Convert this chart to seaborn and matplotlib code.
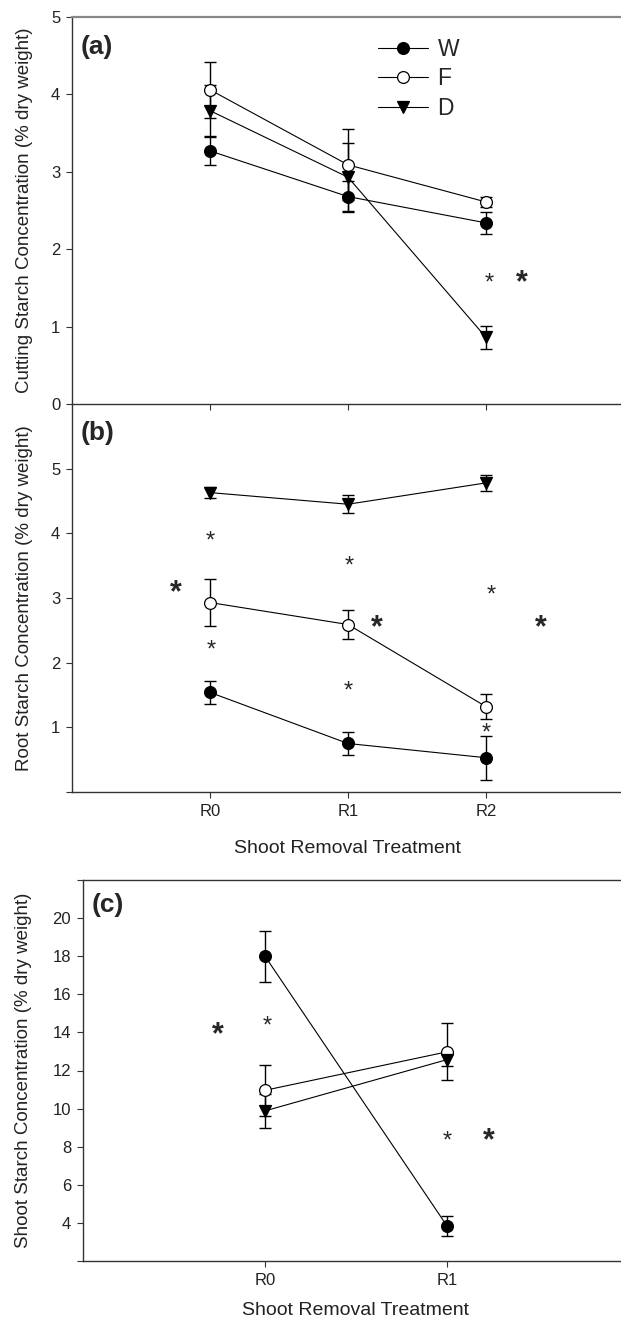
import matplotlib
matplotlib.use("Agg")
import matplotlib.pyplot as plt
import matplotlib.transforms as mtransforms
import seaborn as sns
import pandas as pd

sns.set_style("ticks")
plt.rcParams['font.family'] = ['Liberation Sans', 'DejaVu Sans']

# treatments on x
treat3 = ['R0', 'R1', 'R2']
treat2 = ['R0', 'R1']

# (a) cutting starch
cut_W = [3.27, 2.68, 2.34]
cut_W_err = [0.18, 0.20, 0.14]
cut_F = [4.06, 3.09, 2.61]
cut_F_err = [0.36, 0.46, 0.07]
cut_D = [3.79, 2.93, 0.86]
cut_D_err = [0.33, 0.44, 0.15]

# (b) root starch
root_W = [1.54, 0.75, 0.53]
root_W_err = [0.18, 0.18, 0.34]
root_F = [2.93, 2.59, 1.32]
root_F_err = [0.36, 0.23, 0.19]
root_D = [4.63, 4.45, 4.78]
root_D_err = [0.08, 0.14, 0.12]

# (c) shoot starch
shoot_W = [18.0, 3.84]
shoot_W_err = [1.33, 0.53]
shoot_F = [10.96, 12.98]
shoot_F_err = [1.34, 1.50]
shoot_D = [9.88, 12.57]
shoot_D_err = [0.91, 0.33]

# significance stars: (x, y)
stars_a_small = [(2.02, 1.61)]
stars_a_big = [(2.26, 1.65)]
stars_b_small = [(0.0, 3.93), (0.01, 2.25), (1.01, 3.55), (1.0, 1.62), (2.04, 3.10), (2.0, 0.96)]
stars_b_big = [(-0.25, 3.18), (1.21, 2.64), (2.40, 2.64)]
stars_c_small = [(0.01, 14.52), (1.0, 8.48)]
stars_c_big = [(-0.26, 14.2), (1.23, 8.65)]

styles = {
    'W': dict(marker='o', markerfacecolor='black'),
    'F': dict(marker='o', markerfacecolor='white'),
    'D': dict(marker='v', markerfacecolor='black'),
}


def draw_panel(ax, cats, series, stars_small, stars_big, legend=False):
    ax.set_facecolor('none')
    for name, vals, errs in series:
        df = pd.DataFrame({'x': list(range(len(cats))), 'y': vals})
        ax.errorbar(df['x'], df['y'], yerr=errs, fmt='none', ecolor='black',
                    elinewidth=1.0, capsize=4.5, capthick=1.0, zorder=2)
        sns.lineplot(data=df, x='x', y='y', ax=ax, color='black', linewidth=0.8,
                     markersize=8.5, markeredgecolor='black', markeredgewidth=0.9,
                     label=name if legend else None, legend=False, zorder=3,
                     **styles[name])
    # asterisk glyph sits high in its box, nudge it down
    small_tr = mtransforms.offset_copy(ax.transData, fig=ax.figure, y=-4, units='dots')
    big_tr = mtransforms.offset_copy(ax.transData, fig=ax.figure, y=-7, units='dots')
    for x, y in stars_small:
        ax.text(x, y, '*', fontsize=17, ha='center', va='center', transform=small_tr)
    for x, y in stars_big:
        ax.text(x, y, '*', fontsize=22, fontweight='bold', ha='center', va='center',
                transform=big_tr)
    ax.set_xlim(-1, len(cats))
    ax.set_xticks(range(len(cats)))
    ax.spines['right'].set_visible(False)
    for side in ['left', 'bottom', 'top']:
        ax.spines[side].set_color('#333333')
        ax.spines[side].set_linewidth(1.0)
    ax.tick_params(axis='both', direction='out', length=4.5, width=0.8, pad=4,
                   colors='#333333', labelcolor='#222222', labelsize=12)


fig = plt.figure(figsize=(6.21, 13.17), dpi=100)
ax_a = fig.add_axes([72 / 621, 1 - 404 / 1317, 552 / 621, 387 / 1317])
ax_b = fig.add_axes([72 / 621, 1 - 792 / 1317, 552 / 621, 388 / 1317])
ax_c = fig.add_axes([83 / 621, 1 - 1261 / 1317, 546 / 621, 381 / 1317])
ax_a.set_zorder(2)

draw_panel(ax_a, treat3,
           [('W', cut_W, cut_W_err), ('F', cut_F, cut_F_err), ('D', cut_D, cut_D_err)],
           stars_a_small, stars_a_big, legend=True)
ax_a.set_ylim(0, 5)
ax_a.set_yticks([0, 1, 2, 3, 4, 5])
ax_a.set_xticklabels([])
ax_a.spines['top'].set_color('#888888')
ax_a.spines['top'].set_linewidth(1.6)
ax_a.set_xlabel('')
ax_a.set_ylabel('Cutting Starch Concentration (% dry weight)', fontsize=13.5,
                color='#222222', labelpad=13)
ax_a.text(0.016, 0.922, '(a)', transform=ax_a.transAxes, fontsize=19,
          fontweight='bold', ha='left', va='center')
ax_a.legend(loc='upper left', bbox_to_anchor=(0.517, 1.0), frameon=False,
            fontsize=16.5, handlelength=2.2, handletextpad=0.4, labelspacing=0.3)

draw_panel(ax_b, treat3,
           [('W', root_W, root_W_err), ('F', root_F, root_F_err), ('D', root_D, root_D_err)],
           stars_b_small, stars_b_big)
ax_b.set_ylim(0, 6)
ax_b.set_yticks([0, 1, 2, 3, 4, 5])
ax_b.set_yticklabels(['', '1', '2', '3', '4', '5'])
ax_b.set_xticklabels(treat3)
ax_b.spines['top'].set_visible(False)
ax_b.set_xlabel('Shoot Removal Treatment', fontsize=14, color='#222222', labelpad=15)
ax_b.set_ylabel('Root Starch Concentration (% dry weight)', fontsize=13.5,
                color='#222222', labelpad=13)
ax_b.text(0.016, 0.925, '(b)', transform=ax_b.transAxes, fontsize=19,
          fontweight='bold', ha='left', va='center')

draw_panel(ax_c, treat2,
           [('W', shoot_W, shoot_W_err), ('F', shoot_F, shoot_F_err), ('D', shoot_D, shoot_D_err)],
           stars_c_small, stars_c_big)
ax_c.set_ylim(2, 22)
ticks_c = list(range(2, 23, 2))
ax_c.set_yticks(ticks_c)
ax_c.set_yticklabels([''] + [str(t) for t in ticks_c[1:-1]] + [''])
ax_c.set_xticklabels(treat2)
ax_c.set_xlabel('Shoot Removal Treatment', fontsize=14, color='#222222', labelpad=10)
ax_c.set_ylabel('Shoot Starch Concentration (% dry weight)', fontsize=13.5,
                color='#222222', labelpad=15)
ax_c.text(0.016, 0.934, '(c)', transform=ax_c.transAxes, fontsize=19,
          fontweight='bold', ha='left', va='center')

fig.savefig('out.png', dpi=100)
